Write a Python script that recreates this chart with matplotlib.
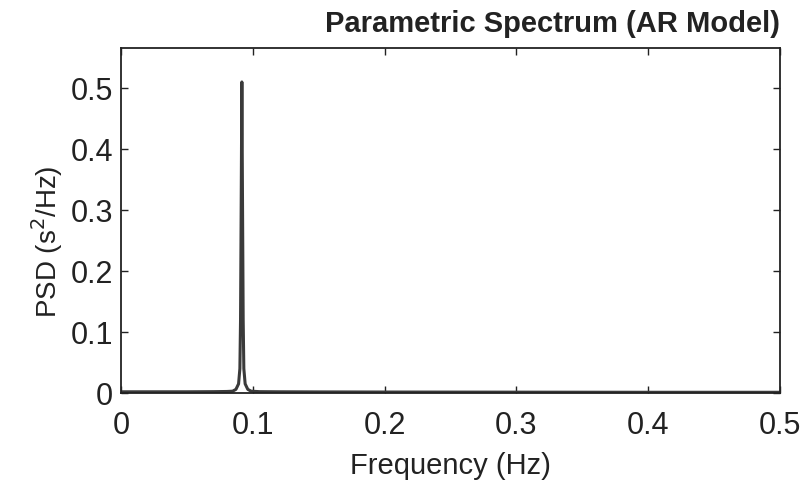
import numpy as np
import matplotlib.pyplot as plt

plt.rcParams['font.family'] = ['Liberation Sans', 'DejaVu Sans']

# AR-model power spectral density (one sharp peak near 0.09 Hz)
freq = [0.0, 0.02, 0.05, 0.07, 0.08, 0.0845, 0.087, 0.089, 0.090, 0.0905,
        0.0911, 0.0915, 0.0919, 0.0925, 0.0930, 0.0940, 0.0960, 0.0985,
        0.105, 0.12, 0.15, 0.2, 0.3, 0.4, 0.5]
psd = [0.002, 0.002, 0.002, 0.0022, 0.0025, 0.003, 0.006, 0.015, 0.04, 0.12,
       0.35, 0.51, 0.35, 0.12, 0.04, 0.015, 0.006, 0.003,
       0.0022, 0.002, 0.0018, 0.0016, 0.0014, 0.0012, 0.0012]

xticks = [0, 0.1, 0.2, 0.3, 0.4, 0.5]
yticks = [0, 0.1, 0.2, 0.3, 0.4, 0.5]

fig = plt.figure(figsize=(8.09, 4.84), dpi=100)
ax = fig.add_axes([0.150, 0.188, 0.814, 0.712])
ax.plot(freq, psd, color='#3a3a3a', linewidth=2.2)

ax.set_xlim(0, 0.5)
ax.set_ylim(0, 0.565)
ax.set_xticks(xticks)
ax.set_xticklabels(['0', '0.1', '0.2', '0.3', '0.4', '0.5'])
ax.set_yticks(yticks)
ax.set_yticklabels(['0', '0.1', '0.2', '0.3', '0.4', '0.5'])
ax.tick_params(direction='in', top=True, right=True, length=5, width=1,
               labelsize=22, colors='#222222')
ax.tick_params(axis='x', pad=13)
ax.tick_params(axis='y', pad=6)
for s in ax.spines.values():
    s.set_linewidth(1.3)
    s.set_color('#222222')

ax.set_title('Parametric Spectrum (AR Model)', loc='right', fontsize=21,
             fontweight='bold', color='#222222', pad=12)
ax.set_xlabel('Frequency (Hz)', fontsize=21, color='#222222')
ax.set_ylabel('PSD (s$^2$/Hz)', fontsize=20, color='#222222')
ax.xaxis.set_label_coords(0.5, -0.17)
ax.yaxis.set_label_coords(-0.085, 0.44)

fig.savefig('out.png', dpi=100)
